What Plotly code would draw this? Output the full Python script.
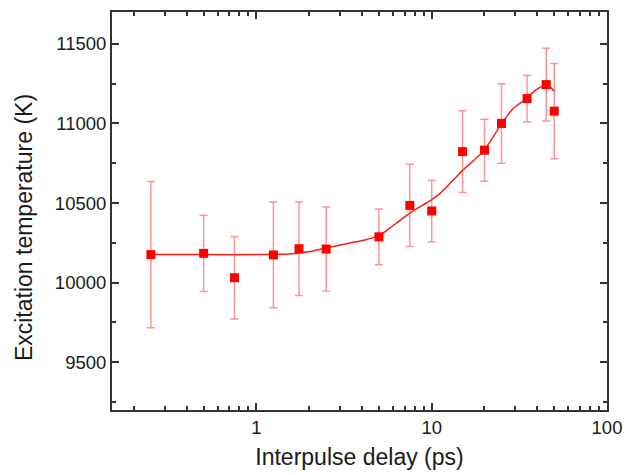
import plotly.graph_objects as go
import math

# Measured data
delay_ps = [0.25, 0.5, 0.75, 1.25, 1.75, 2.5, 5, 7.5, 10, 15, 20, 25, 35, 45, 50]
temperature_K = [10176, 10184, 10031, 10174, 10213, 10211, 10288, 10485, 10450,
                 10823, 10832, 11000, 11156, 11244, 11077]
temperature_err = [460, 239, 259, 332, 293, 264, 175, 258, 193,
                   257, 195, 250, 145, 228, 299]

# Fit curve
fit_delay = [0.25, 0.5, 1.0, 1.25, 1.5, 1.78, 2.0, 2.5, 3.42, 4.2, 5.0, 6.03,
             7.5, 10.0, 11.1, 13.5, 15.0, 20.0, 25.0, 29.0, 35.0, 39.3, 45.0, 46.8, 50.0]
fit_temp = [10176, 10176, 10176, 10177, 10180, 10186, 10195, 10218, 10249, 10270,
            10295, 10359, 10437, 10521, 10558, 10653, 10705, 10834, 10997, 11091,
            11158, 11211, 11238, 11232, 11202]

x_major_ticks = [1, 10, 100]
x_major_labels = ["1", "10", "100"]
x_minor_ticks = [0.2, 0.3, 0.4, 0.5, 0.6, 0.7, 0.8, 0.9,
                 2, 3, 4, 5, 6, 7, 8, 9,
                 20, 30, 40, 50, 60, 70, 80, 90]

axis_col = "#333333"
font_family = "Liberation Sans, Arial, sans-serif"

fig = go.Figure()
fig.add_trace(go.Scatter(
    x=fit_delay, y=fit_temp, mode="lines",
    line=dict(color="#ff1a1a", width=1.5, shape="spline", smoothing=0.8),
    showlegend=False, hoverinfo="skip"))
fig.add_trace(go.Scatter(
    x=delay_ps, y=temperature_K, mode="markers",
    marker=dict(symbol="square", size=9, color="#ff0000", line=dict(width=0)),
    error_y=dict(type="data", array=temperature_err, visible=True,
                 color="rgba(255,60,60,0.55)", thickness=1.5, width=4),
    showlegend=False))

fig.update_layout(
    width=626, height=475,
    margin=dict(l=112, r=19, t=12, b=65),
    paper_bgcolor="white", plot_bgcolor="white",
    font=dict(family=font_family, size=18, color="#1a1a1a"),
    annotations=[dict(
        text="Excitation temperature (K)", textangle=-90,
        xref="paper", yref="paper", x=-0.179, y=0.458,
        xanchor="center", yanchor="middle", showarrow=False,
        font=dict(size=23, family=font_family, color="#1a1a1a"))],
)
fig.update_xaxes(
    type="log", range=[math.log10(0.15), 2],
    tickmode="array", tickvals=x_major_ticks, ticktext=x_major_labels,
    ticks="inside", ticklen=7, tickwidth=1.5, tickcolor=axis_col,
    showline=True, linecolor=axis_col, linewidth=2, mirror="ticks",
    showgrid=False, zeroline=False, automargin=False,
    minor=dict(tickmode="array", tickvals=x_minor_ticks, ticks="inside",
               ticklen=4, tickwidth=1.5, tickcolor=axis_col, showgrid=False),
    tickfont=dict(size=18.5),
    title=dict(text="Interpulse delay (ps)", font=dict(size=23), standoff=12),
)
fig.update_yaxes(
    range=[9200, 11700], dtick=500, tick0=0, tickformat="d",
    ticks="inside", ticklen=7, tickwidth=1.5, tickcolor=axis_col,
    showline=True, linecolor=axis_col, linewidth=2, mirror="ticks",
    showgrid=False, zeroline=False, automargin=False,
    minor=dict(dtick=250, ticks="inside", ticklen=4, tickwidth=1.5,
               tickcolor=axis_col, showgrid=False),
    tickfont=dict(size=18.5),
)

fig.write_html(
    "out.html",
    config={"displayModeBar": False},
    post_script="document.body.style.margin='0';document.body.style.overflow='hidden';",
)
